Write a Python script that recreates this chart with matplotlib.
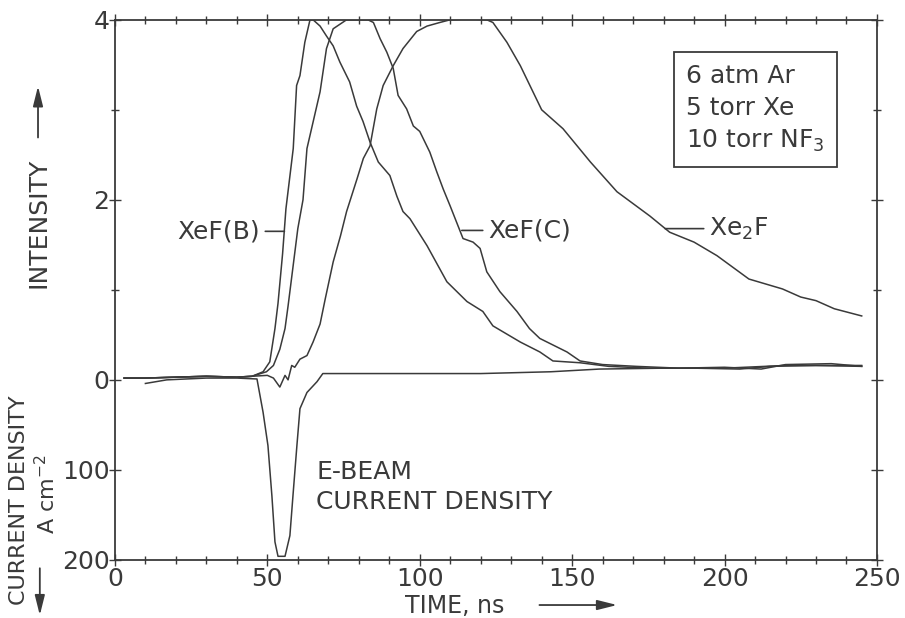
import numpy as np
import matplotlib.pyplot as plt
from matplotlib.ticker import MultipleLocator

# time axis in ns, intensity in arbitrary units (top panel)
t_xefb = [3, 10, 20, 30, 40, 45, 48.6, 50.8, 52.5, 53.5, 55, 56.1, 58.5, 59.6,
          60.7, 62.3, 64, 65, 67.3, 69.4, 71.6, 73.8, 77, 79.3, 81.4, 83.7,
          86.4, 90.2, 92.5, 94.5, 96.8, 102.4, 108.9, 115.5, 120.7, 124, 133,
          139.4, 143.7, 152.6, 162, 175, 190, 205, 215, 230, 245]
i_xefb = [0.02, 0.02, 0.03, 0.04, 0.03, 0.04, 0.09, 0.2, 0.57, 0.85, 1.4, 1.9,
          2.57, 3.27, 3.38, 3.75, 4.0, 4.0, 3.93, 3.82, 3.71, 3.53, 3.31, 3.04,
          2.87, 2.64, 2.42, 2.27, 2.04, 1.87, 1.79, 1.49, 1.09, 0.87, 0.76, 0.6,
          0.42, 0.31, 0.21, 0.19, 0.15, 0.13, 0.13, 0.12, 0.15, 0.16, 0.15]

t_xefc = [3, 10, 20, 30, 40, 45, 49.7, 52, 54.1, 55.8, 56.8, 60, 61.7, 63,
          67.3, 69.4, 71.6, 76, 83, 84.8, 87, 89.2, 91.3, 92.9, 95.7, 97.9, 100,
          103.3, 105.6, 107.7, 110, 114.2, 117.5, 119.8, 122, 126.3, 131.9, 136,
          139.4, 148.3, 152.6, 160, 171, 185, 200, 212, 220, 235, 245]
i_xefc = [0.02, 0.02, 0.03, 0.04, 0.03, 0.04, 0.09, 0.16, 0.34, 0.57, 0.82, 1.68,
          2.0, 2.57, 3.2, 3.68, 3.9, 4.0, 4.0, 3.97, 3.79, 3.64, 3.46, 3.16,
          3.01, 2.82, 2.76, 2.53, 2.31, 2.12, 1.93, 1.57, 1.53, 1.46, 1.2, 0.98,
          0.76, 0.57, 0.46, 0.31, 0.21, 0.17, 0.15, 0.13, 0.14, 0.12, 0.17,
          0.18, 0.15]

t_xe2f = [3, 10, 20, 30, 40, 45, 50, 52, 54.1, 55.8, 56.8, 58, 59, 60.7, 63, 65,
          67.3, 69, 71.6, 74, 76, 79.4, 81.5, 83.7, 85.9, 88, 91.3, 94.5, 99,
          102.4, 106.6, 110, 116, 122, 124, 128.6, 133, 140, 147, 156, 164.7,
          175.5, 182, 190, 197.5, 208, 219, 225, 230, 236, 245]
i_xe2f = [0.02, 0.02, 0.03, 0.04, 0.03, 0.04, 0.05, 0.02, -0.08, 0.05, 0.0,
          0.16, 0.14, 0.23, 0.27, 0.42, 0.62, 0.9, 1.31, 1.6, 1.87, 2.23, 2.46,
          2.6, 3.01, 3.27, 3.49, 3.68, 3.87, 3.93, 3.97, 4.0, 4.01, 4.0, 3.97,
          3.75, 3.49, 3.0, 2.79, 2.42, 2.09, 1.82, 1.64, 1.53, 1.38, 1.12, 1.01,
          0.92, 0.88, 0.79, 0.71]

# e-beam current density, A cm^-2 (plotted downward, 100 A cm^-2 = 1 unit)
t_beam = [10, 17, 30, 40, 46.6, 48.6, 50.2, 51.5, 52.5, 53.5, 55.8, 57.4, 58.4,
          59.7, 60.7, 63, 66.3, 68.2, 80, 100, 120, 143, 159, 180, 200, 220, 245]
j_beam = [4, 0, -2, -2, -1, 36, 73, 129, 180, 196, 196, 173, 129, 73, 32, 14, 2,
          -7, -7, -7, -7, -9, -12, -13, -13, -16, -16]

yticks = [4, 2, 0, -1, -2]
ytick_labels = ['4', '2', '0', '100', '200']
xticks = [0, 50, 100, 150, 200, 250]

ink = '#3a3a3a'
plt.rcParams['font.family'] = 'DejaVu Sans'
plt.rcParams['text.color'] = ink

fig = plt.figure(figsize=(9.05, 6.18), dpi=100)
ax = fig.add_axes([0.127, 0.094, 0.842, 0.874])

lw = 1.1
ax.plot(t_xefb, i_xefb, color=ink, lw=lw)
ax.plot(t_xefc, i_xefc, color=ink, lw=lw)
ax.plot(t_xe2f, i_xe2f, color=ink, lw=lw)
ax.plot(t_beam, -np.array(j_beam) / 100.0, color=ink, lw=lw)

ax.set_xlim(0, 250)
ax.set_ylim(-2, 4)
ax.set_xticks(xticks)
ax.xaxis.set_minor_locator(MultipleLocator(10))
ax.set_yticks(yticks)
ax.set_yticklabels(ytick_labels)
ax.set_yticks([3, 1], minor=True)
ax.tick_params(axis='both', which='both', direction='inout', colors=ink,
               labelsize=18, top=True, right=True, width=1.0)
ax.tick_params(axis='both', which='major', length=8, pad=1)
ax.tick_params(axis='both', which='minor', length=6)
ax.tick_params(axis='y', which='major', pad=0)
for s in ax.spines.values():
    s.set_color(ink)
    s.set_linewidth(1.3)

# curve labels with leader lines
lab = dict(fontsize=18, va='center', color=ink,
           arrowprops=dict(arrowstyle='-', color=ink, lw=1.2, shrinkA=2, shrinkB=0))
ax.annotate('XeF(B)', xy=(55.6, 1.65), xytext=(47.5, 1.65), ha='right', **lab)
ax.annotate('XeF(C)', xy=(113.8, 1.66), xytext=(122.5, 1.66), ha='left', **lab)
ax.annotate('Xe$_2$F', xy=(180.5, 1.68), xytext=(195, 1.68), ha='left', **lab)

ax.text(66, -1.19, 'E-BEAM\nCURRENT DENSITY', fontsize=18, ha='left',
        va='center', linespacing=1.3, color=ink)

ax.text(187.5, 3.01, '6 atm Ar\n5 torr Xe\n10 torr NF$_3$', fontsize=18,
        ha='left', va='center', linespacing=1.42, color=ink,
        bbox=dict(boxstyle='square,pad=0.5', fc='white', ec=ink, lw=1.3))

# axis titles with arrows
fig.text(0.447, 0.02, 'TIME, ns', fontsize=17, ha='left', va='center')
ax.annotate('', xy=(0.685, 0.021), xytext=(0.593, 0.021),
            xycoords='figure fraction',
            arrowprops=dict(arrowstyle='-|>,head_length=1.2,head_width=0.3',
                            color=ink, lw=1.3))

fig.text(0.042, 0.64, 'INTENSITY', fontsize=18, rotation=90, ha='center',
         va='center')
ax.annotate('', xy=(0.042, 0.865), xytext=(0.042, 0.773),
            xycoords='figure fraction',
            arrowprops=dict(arrowstyle='-|>,head_length=1.2,head_width=0.3',
                            color=ink, lw=1.3))

fig.text(0.021, 0.19, 'CURRENT DENSITY', fontsize=16, rotation=90,
         ha='center', va='center')
fig.text(0.052, 0.20, 'A cm$^{-2}$', fontsize=16, rotation=90,
         ha='center', va='center')
ax.annotate('', xy=(0.044, 0.0), xytext=(0.044, 0.085),
            xycoords='figure fraction',
            arrowprops=dict(arrowstyle='-|>,head_length=1.2,head_width=0.3',
                            color=ink, lw=1.3))

fig.savefig('out.png', dpi=100)
